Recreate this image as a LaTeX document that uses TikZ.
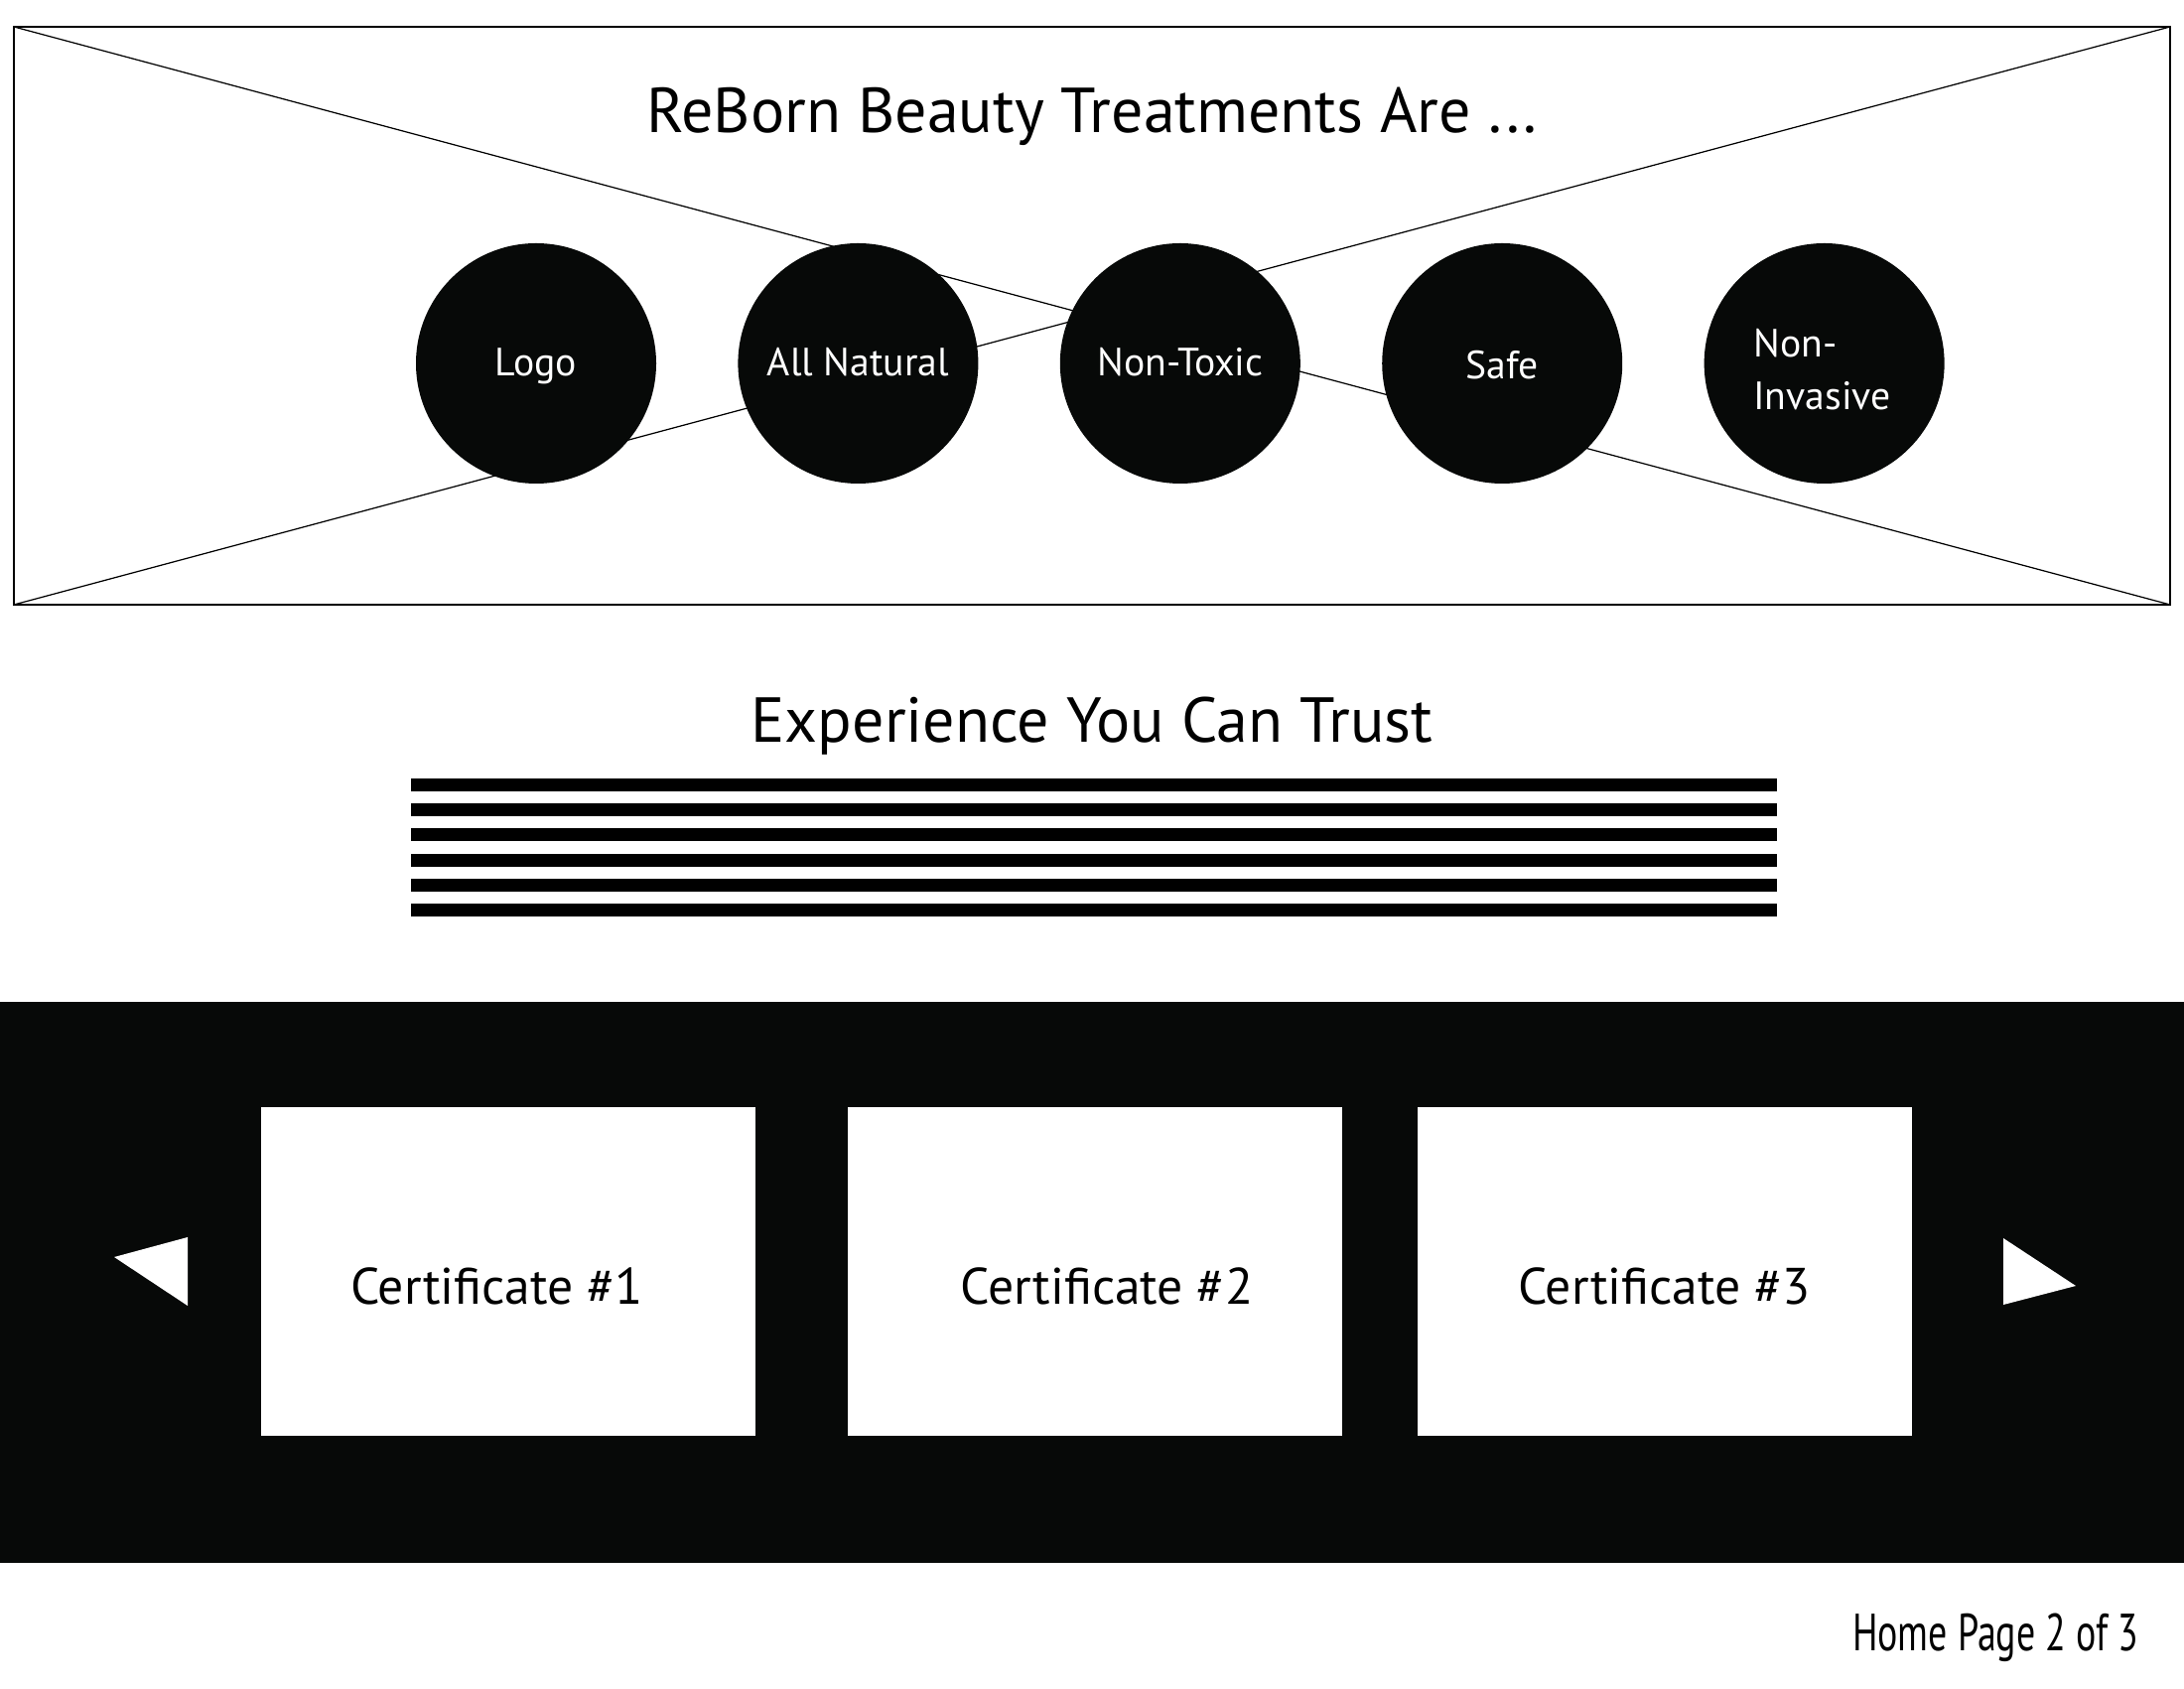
\documentclass[tikz,border=0pt]{standalone}
\usepackage{fontspec}
\setmainfont{PT Sans}
\newfontfamily\narrowfont[FakeStretch=0.72]{PT Sans}
\usetikzlibrary{positioning}
\definecolor{ink}{RGB}{7,9,8}
\tikzset{
  frame/.style={draw,line width=0.8pt},
  cross/.style={draw,line width=0.35pt},
  dot/.style={circle,fill=ink,minimum size=2.42cm,inner sep=0pt},
  dottext/.style={text=white,inner sep=0pt,font=\fontsize{11.3}{15}\selectfont},
  heading/.style={anchor=base,inner sep=0pt,font=\fontsize{18.2}{22}\selectfont},
  bar/.style={fill=black},
  band/.style={fill=ink},
  card/.style={fill=white,minimum width=4.98cm,minimum height=3.31cm,inner sep=0pt},
  cardtext/.style={inner sep=0pt,text height=1.4ex,text depth=0pt,font=\fontsize{14.7}{18}\selectfont},
  navtri/.style={fill=white},
  footer/.style={anchor=base east,inner sep=0pt,font=\narrowfont\fontsize{15}{18}\selectfont}
}
\begin{document}
\begin{tikzpicture}[node distance=0.81cm]
\useasboundingbox (0,0) rectangle (22,17);
% hero image placeholder
\coordinate (TL) at (0.14,16.73);
\coordinate (BR) at (21.86,10.91);
\draw[cross] (TL) -- (BR);
\draw[cross] (TL |- BR) -- (BR |- TL);
\draw[frame] (TL) rectangle (BR);
\node[heading] (title) at (11,15.66) {ReBorn Beauty Treatments Are ...};
% feature circles
\node[dot] (logo) at (5.40,13.34) {};
\node[dot,right=of logo] (natural) {};
\node[dot,right=of natural] (nontoxic) {};
\node[dot,right=of nontoxic] (safe) {};
\node[dot,right=of safe] (noninv) {};
\node[dottext,text height=1.4ex,text depth=0pt] (logot) at (logo) {Logo};
\node[dottext,text height=1.4ex,text depth=0pt] (naturalt) at (natural) {All Natural};
\node[dottext,text height=1.4ex,text depth=0pt] (nontoxict) at (nontoxic) {Non-Toxic};
\node[dottext,text height=1.4ex,text depth=0pt] (safet) at ([yshift=-0.03cm]safe) {Safe};
\node[dottext,align=left,anchor=west] (noninvt) at ([xshift=-0.72cm,yshift=-0.06cm]noninv) {Non-\\Invasive};
% text block
\node[heading] (trust) at (11,9.52) {Experience You Can Trust};
\foreach \i in {0,...,5}
  \fill[bar] (4.14,9.16-\i*0.252) rectangle ++(13.76,-0.13);
% certificate slider
\fill[band] (0,6.91) rectangle (22,1.26);
\node[card] (cert1) at (5.115,4.195) {};
\node[card] (cert2) at (11.03,4.195) {};
\node[card] (cert3) at (16.765,4.195) {};
\node[cardtext] (cert1t) at ([xshift=-0.11cm,yshift=-0.21cm]cert1) {Certificate \#1};
\node[cardtext] (cert2t) at ([xshift=0.12cm,yshift=-0.21cm]cert2) {Certificate \#2};
\node[cardtext] (cert3t) at ([yshift=-0.21cm]cert3) {Certificate \#3};
\fill[navtri] (1.15,4.34) -- (1.89,4.54) -- (1.89,3.85) -- cycle;
\fill[navtri] (20.18,4.53) -- (20.91,4.05) -- (20.18,3.86) -- cycle;
\node[footer] (page) at (21.55,0.38) {Home Page 2 of 3};
\end{tikzpicture}
\end{document}
